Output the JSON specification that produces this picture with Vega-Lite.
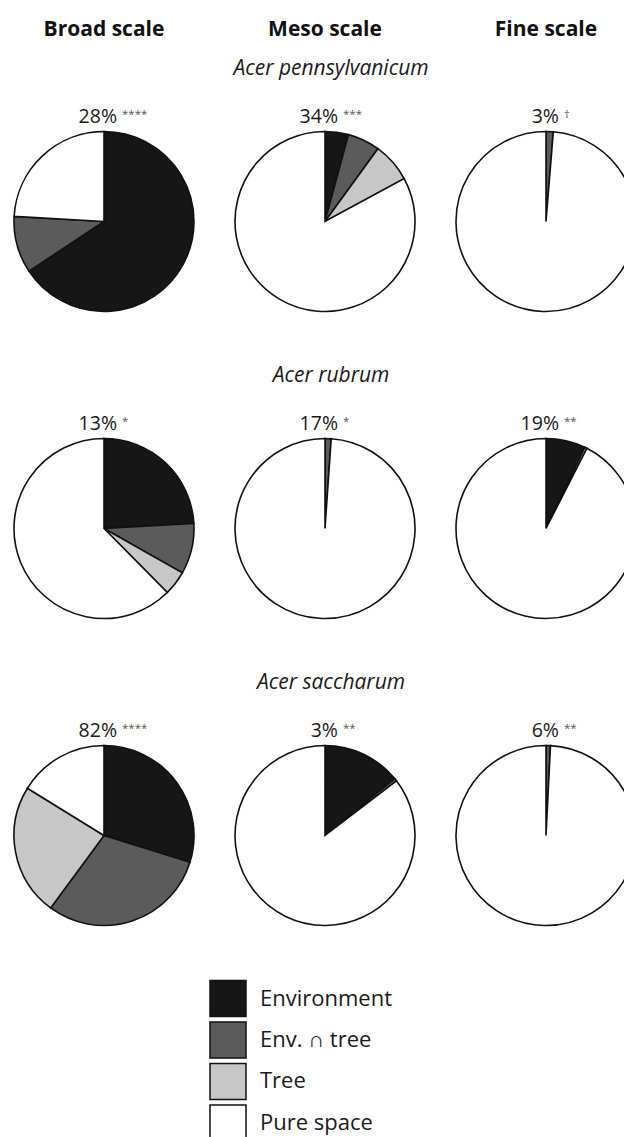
{
  "$schema": "https://vega.github.io/schema/vega-lite/v6.json",
  "background": "white",
  "padding": {"left": 10, "top": 19, "right": 0, "bottom": 0},
  "config": {"view": {"stroke": null}, "font": "Open Sans", "text": {"color": "#1a1a1a"}},
  "spacing": 0,
  "datasets": {
    "pies": [
      {"species": "Acer pennsylvanicum", "scale": "Broad scale", "component": "Environment", "share": 65.7, "pct": "28%", "sig": "****"},
      {"species": "Acer pennsylvanicum", "scale": "Broad scale", "component": "Env. ∩ tree", "share": 10.2, "pct": "28%", "sig": "****"},
      {"species": "Acer pennsylvanicum", "scale": "Broad scale", "component": "Pure space", "share": 24.1, "pct": "28%", "sig": "****"},
      {"species": "Acer pennsylvanicum", "scale": "Meso scale", "component": "Environment", "share": 4.2, "pct": "34%", "sig": "***"},
      {"species": "Acer pennsylvanicum", "scale": "Meso scale", "component": "Env. ∩ tree", "share": 5.8, "pct": "34%", "sig": "***"},
      {"species": "Acer pennsylvanicum", "scale": "Meso scale", "component": "Tree", "share": 7.1, "pct": "34%", "sig": "***"},
      {"species": "Acer pennsylvanicum", "scale": "Meso scale", "component": "Pure space", "share": 82.9, "pct": "34%", "sig": "***"},
      {"species": "Acer pennsylvanicum", "scale": "Fine scale", "component": "Env. ∩ tree", "share": 1.3, "pct": "3%", "sig": "†"},
      {"species": "Acer pennsylvanicum", "scale": "Fine scale", "component": "Pure space", "share": 98.7, "pct": "3%", "sig": "†"},
      {"species": "Acer rubrum", "scale": "Broad scale", "component": "Environment", "share": 24.1, "pct": "13%", "sig": "*"},
      {"species": "Acer rubrum", "scale": "Broad scale", "component": "Env. ∩ tree", "share": 9.1, "pct": "13%", "sig": "*"},
      {"species": "Acer rubrum", "scale": "Broad scale", "component": "Tree", "share": 4.4, "pct": "13%", "sig": "*"},
      {"species": "Acer rubrum", "scale": "Broad scale", "component": "Pure space", "share": 62.4, "pct": "13%", "sig": "*"},
      {"species": "Acer rubrum", "scale": "Meso scale", "component": "Env. ∩ tree", "share": 1.1, "pct": "17%", "sig": "*"},
      {"species": "Acer rubrum", "scale": "Meso scale", "component": "Pure space", "share": 98.9, "pct": "17%", "sig": "*"},
      {"species": "Acer rubrum", "scale": "Fine scale", "component": "Environment", "share": 7.1, "pct": "19%", "sig": "**"},
      {"species": "Acer rubrum", "scale": "Fine scale", "component": "Tree", "share": 0.4, "pct": "19%", "sig": "**"},
      {"species": "Acer rubrum", "scale": "Fine scale", "component": "Pure space", "share": 92.5, "pct": "19%", "sig": "**"},
      {"species": "Acer saccharum", "scale": "Broad scale", "component": "Environment", "share": 29.8, "pct": "82%", "sig": "****"},
      {"species": "Acer saccharum", "scale": "Broad scale", "component": "Env. ∩ tree", "share": 30.3, "pct": "82%", "sig": "****"},
      {"species": "Acer saccharum", "scale": "Broad scale", "component": "Tree", "share": 23.7, "pct": "82%", "sig": "****"},
      {"species": "Acer saccharum", "scale": "Broad scale", "component": "Pure space", "share": 16.2, "pct": "82%", "sig": "****"},
      {"species": "Acer saccharum", "scale": "Meso scale", "component": "Environment", "share": 14.1, "pct": "3%", "sig": "**"},
      {"species": "Acer saccharum", "scale": "Meso scale", "component": "Env. ∩ tree", "share": 0.5, "pct": "3%", "sig": "**"},
      {"species": "Acer saccharum", "scale": "Meso scale", "component": "Pure space", "share": 85.4, "pct": "3%", "sig": "**"},
      {"species": "Acer saccharum", "scale": "Fine scale", "component": "Env. ∩ tree", "share": 0.8, "pct": "6%", "sig": "**"},
      {"species": "Acer saccharum", "scale": "Fine scale", "component": "Pure space", "share": 99.2, "pct": "6%", "sig": "**"}
    ],
    "legend": [
      {"component": "Environment"},
      {"component": "Env. ∩ tree"},
      {"component": "Tree"},
      {"component": "Pure space"}
    ]
  },
  "vconcat": [
    {
      "data": {"name": "pies"},
      "transform": [
        {"calculate": "indexof(['Environment','Env. ∩ tree','Tree','Pure space'], datum.component)", "as": "k"}
      ],
      "bounds": "flush",
      "spacing": {"row": 24, "column": 39},
      "facet": {
        "column": {"field": "scale", "type": "nominal", "sort": ["Broad scale", "Meso scale", "Fine scale"],
          "header": {"title": null, "labelFontSize": 21, "labelFontWeight": "bold", "labelFont": "Open Sans", "labelColor": "#111", "labelPadding": 40}},
        "row": {"field": "species", "type": "nominal", "sort": ["Acer pennsylvanicum", "Acer rubrum", "Acer saccharum"],
          "header": {"title": null, "labels": false}}
      },
      "spec": {
        "width": 182,
        "height": 283,
        "layer": [
          {
            "mark": {"type": "arc", "outerRadius": 90, "stroke": "#111", "strokeWidth": 1.6},
            "encoding": {
              "theta": {"field": "share", "type": "quantitative", "stack": true, "scale": {"domain": [0, 100]}},
              "order": {"field": "k", "type": "quantitative"},
              "color": {"field": "component", "type": "nominal",
                "scale": {"domain": ["Environment", "Env. ∩ tree", "Tree", "Pure space"], "range": ["#161616", "#5b5b5b", "#c6c7c6", "#ffffff"]},
                "legend": null}
            }
          },
          {
            "transform": [{"filter": "datum.component === 'Pure space'"}],
            "mark": {"type": "text", "align": "right", "baseline": "alphabetic", "dx": 13, "dy": -99, "fontSize": 19.5},
            "encoding": {"text": {"field": "pct"}}
          },
          {
            "transform": [{"filter": "datum.component === 'Pure space'"}],
            "mark": {"type": "text", "align": "left", "baseline": "alphabetic", "dx": 18, "dy": -104, "fontSize": 11.5, "color": "#555"},
            "encoding": {"text": {"field": "sig"}}
          },
          {
            "transform": [{"filter": "datum.component === 'Pure space' && datum.scale === 'Meso scale'"}],
            "mark": {"type": "text", "align": "center", "baseline": "alphabetic", "dx": 6, "dy": -147, "fontSize": 21, "fontStyle": "italic"},
            "encoding": {"text": {"field": "species"}}
          }
        ]
      }
    },
    {
      "data": {"name": "legend"},
      "width": 430,
      "height": 143.5,
      "encoding": {
        "y": {"field": "component", "type": "nominal", "sort": null, "scale": {"padding": 0.23}, "axis": null}
      },
      "layer": [
        {
          "mark": {"type": "square", "size": 1296, "filled": true, "opacity": 1, "stroke": "#111", "strokeWidth": 1.5},
          "encoding": {"color": {"field": "component", "type": "nominal", "legend": null}}
        },
        {
          "mark": {"type": "text", "align": "left", "baseline": "middle", "dx": 32, "fontSize": 22},
          "encoding": {"text": {"field": "component"}}
        }
      ]
    }
  ]
}
